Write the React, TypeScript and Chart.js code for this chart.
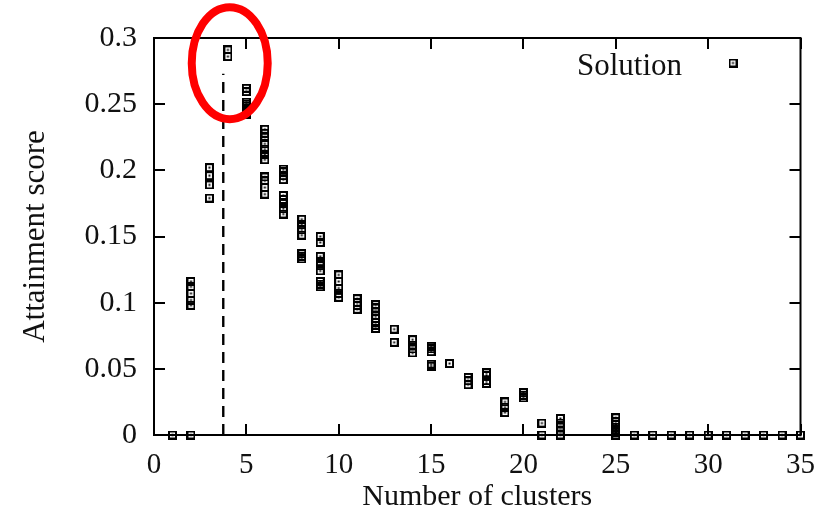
import { useEffect, useRef } from "react";
import { Chart, registerables } from "chart.js";

Chart.register(...registerables);

// Number of clusters found in each run, and the attainment scores observed for it.
const clusterCounts = [
  1, 2, 3, 4, 5, 6, 7, 8, 9, 10, 11, 12, 13, 14, 15, 16, 17, 18, 19, 20, 21, 22,
  25, 26, 27, 28, 29, 30, 31, 32, 33, 34, 35,
];

const attainmentScores: number[][] = [
  [0],
  [0.116, 0.112, 0.107, 0.102, 0.098, 0],
  [0.202, 0.196, 0.189, 0.179],
  [0.291, 0.286],
  [0.262, 0.2595, 0.2515, 0.25, 0.2485, 0.247, 0.245, 0.2425],
  [0.231, 0.228, 0.225, 0.22, 0.216, 0.212, 0.208, 0.195, 0.192, 0.187, 0.182],
  [0.201, 0.199, 0.196, 0.193, 0.181, 0.178, 0.175, 0.171, 0.167],
  [0.163, 0.159, 0.155, 0.151, 0.137, 0.135, 0.133],
  [0.15, 0.1455, 0.135, 0.131, 0.128, 0.124, 0.116, 0.114, 0.112],
  [0.121, 0.116, 0.111, 0.107, 0.104],
  [0.103, 0.1, 0.098, 0.095],
  [0.0985, 0.096, 0.093, 0.09, 0.088, 0.085, 0.083, 0.0805],
  [0.08, 0.07],
  [0.072, 0.068, 0.065, 0.062],
  [0.067, 0.065, 0.063, 0.0535, 0.052],
  [0.054],
  [0.0435, 0.041, 0.038],
  [0.047, 0.045, 0.041, 0.039],
  [0.025, 0.021, 0.017],
  [0.032, 0.03, 0.028],
  [0.009, 0],
  [0.0125, 0.009, 0.006, 0.003, 0],
  [0.013, 0.01, 0.008, 0.006, 0.004, 0.002, 0],
  [0],
  [0],
  [0],
  [0],
  [0],
  [0],
  [0],
  [0],
  [0],
  [0],
];

const xTickLabels = ["0", "5", "10", "15", "20", "25", "30", "35"];
const yTickLabels = ["0", "0.05", "0.1", "0.15", "0.2", "0.25", "0.3"];

// Chosen number of clusters (dashed marker) and the height it reaches.
const chosenClusters = 3.75;
const chosenLineTop = 0.273;

// Centre of the red highlight ring, in data units.
const highlightX = 4.1;
const highlightY = 0.281;

const SERIF = '"Liberation Serif", "DejaVu Serif", serif';
const INK = "#111";

// Open square with a centre dot, transparent in between.
function makeMarker(): HTMLCanvasElement {
  const c = document.createElement("canvas");
  c.width = 9;
  c.height = 9;
  const g = c.getContext("2d")!;
  g.strokeStyle = "#000";
  g.lineWidth = 2;
  g.strokeRect(1, 1, 7, 7);
  g.fillStyle = "#000";
  g.fillRect(3.5, 3.5, 2, 2);
  return c;
}

export default function App() {
  const canvasRef = useRef<HTMLCanvasElement | null>(null);

  useEffect(() => {
    const canvas = canvasRef.current;
    if (!canvas) return;
    const marker = makeMarker();

    const points: { x: number; y: number }[] = [];
    clusterCounts.forEach((n, i) => {
      attainmentScores[i].forEach((s) => points.push({ x: n, y: s }));
    });

    // Frame with inward tick marks on all four sides.
    const framePlugin = {
      id: "frame",
      beforeDatasetsDraw(chart: any) {
        const { ctx, chartArea } = chart;
        const { left, right, top, bottom } = chartArea;
        const xs = chart.scales.x;
        const ys = chart.scales.y;
        ctx.save();
        ctx.strokeStyle = "#000";
        ctx.lineWidth = 2;
        ctx.strokeRect(left, top, right - left, bottom - top);
        ctx.beginPath();
        const len = 11;
        xs.ticks.forEach((t: any) => {
          const px = Math.round(xs.getPixelForValue(t.value));
          ctx.moveTo(px, bottom);
          ctx.lineTo(px, bottom - len);
          ctx.moveTo(px, top);
          ctx.lineTo(px, top + len);
        });
        ys.ticks.forEach((t: any) => {
          const py = Math.round(ys.getPixelForValue(t.value));
          ctx.moveTo(left, py);
          ctx.lineTo(left + len, py);
          ctx.moveTo(right, py);
          ctx.lineTo(right - len, py);
        });
        ctx.stroke();
        ctx.restore();
      },
    };

    // Axis titles, key and the highlight ring.
    const overlayPlugin = {
      id: "overlay",
      afterDraw(chart: any) {
        const { ctx, chartArea } = chart;
        const xs = chart.scales.x;
        const ys = chart.scales.y;
        ctx.save();
        ctx.fillStyle = INK;

        ctx.font = `31px ${SERIF}`;
        ctx.textAlign = "center";
        ctx.textBaseline = "middle";
        ctx.save();
        ctx.translate(36, (chartArea.top + chartArea.bottom) / 2);
        ctx.rotate(-Math.PI / 2);
        ctx.fillText("Attainment score", 0, 0);
        ctx.restore();

        ctx.font = `30px ${SERIF}`;
        ctx.fillText("Number of clusters", (chartArea.left + chartArea.right) / 2, 497);

        // Key
        ctx.font = `31px ${SERIF}`;
        ctx.textAlign = "right";
        ctx.textBaseline = "alphabetic";
        ctx.fillText("Solution", 682, 75);
        ctx.drawImage(marker, 733 - 4.5, 63 - 4.5);

        // Highlight ring
        ctx.strokeStyle = "#ff0000";
        ctx.lineWidth = 8;
        ctx.beginPath();
        ctx.ellipse(
          xs.getPixelForValue(highlightX),
          ys.getPixelForValue(highlightY),
          38,
          56,
          0,
          0,
          Math.PI * 2
        );
        ctx.stroke();
        ctx.restore();
      },
    };

    const chart = new Chart(canvas, {
      type: "scatter",
      data: {
        datasets: [
          {
            label: "Solution",
            data: points,
            pointStyle: marker as any,
            pointRadius: 4.5,
            pointHoverRadius: 4.5,
            showLine: false,
            clip: { left: false, top: false, right: false, bottom: false } as any,
          },
          {
            label: "chosen",
            data: [
              { x: chosenClusters, y: 0 },
              { x: chosenClusters, y: chosenLineTop },
            ],
            showLine: true,
            borderColor: "#000",
            borderWidth: 2.4,
            borderDash: [11, 7],
            pointRadius: 0,
            fill: false,
          },
        ],
      },
      options: {
        responsive: false,
        animation: false,
        devicePixelRatio: 1,
        layout: { padding: { top: 38, right: 27, left: 0, bottom: 0 } },
        plugins: {
          legend: { display: false },
          tooltip: { enabled: false },
        },
        scales: {
          x: {
            type: "linear",
            min: 0,
            max: 35,
            grid: { display: false, drawTicks: false },
            border: { display: false },
            ticks: {
              stepSize: 5,
              autoSkip: false,
              maxRotation: 0,
              padding: 13,
              color: INK,
              font: { family: SERIF, size: 29 },
              callback: (_v: any, i: number) => xTickLabels[i],
            },
            afterFit: (s: any) => {
              s.height = 83;
            },
          },
          y: {
            type: "linear",
            min: 0,
            max: 0.3,
            grid: { display: false, drawTicks: false },
            border: { display: false },
            ticks: {
              stepSize: 0.05,
              autoSkip: false,
              padding: 17,
              color: INK,
              font: { family: SERIF, size: 30 },
              callback: (_v: any, i: number) => yTickLabels[i],
            },
            afterFit: (s: any) => {
              s.width = 154;
            },
          },
        },
      },
      plugins: [framePlugin, overlayPlugin],
    });

    return () => chart.destroy();
  }, []);

  return (
    <div style={{ position: "absolute", left: 0, top: 0, width: 828, height: 518, background: "#fff" }}>
      <canvas ref={canvasRef} width={828} height={518} />
    </div>
  );
}
